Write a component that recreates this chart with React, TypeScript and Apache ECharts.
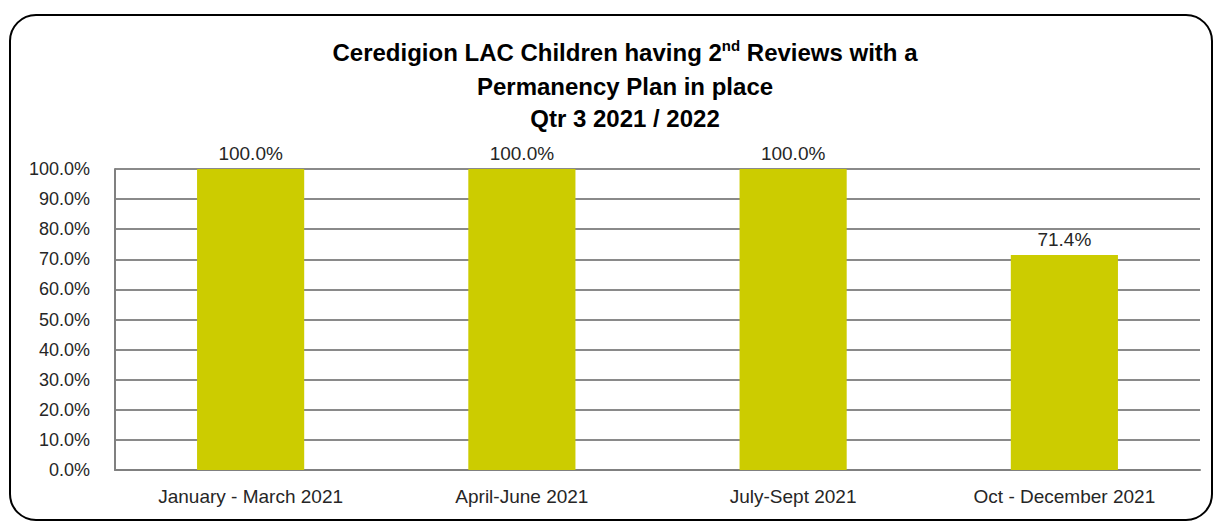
import React, { useEffect, useRef } from "react";
import * as echarts from "echarts";

const categories = ["January - March 2021", "April-June 2021", "July-Sept 2021", "Oct - December 2021"];
const values = [100.0, 100.0, 100.0, 71.4];
const titleLines = [
  "Ceredigion LAC Children having 2{sup|nd} Reviews with a",
  "Permanency Plan in place",
  "Qtr 3 2021 / 2022",
];

const FONT = "'Liberation Sans Narrow', 'Arial Narrow', 'Liberation Sans', Arial, sans-serif";

export default function App() {
  const ref = useRef<HTMLDivElement>(null);
  useEffect(() => {
    document.body.style.margin = "0";
    const chart = echarts.init(ref.current!, null, { renderer: "svg" });
    const titleYs = [52, 86, 118];
    chart.setOption({
      animation: false,
      backgroundColor: "#ffffff",
      textStyle: { fontFamily: FONT },
      graphic: [
        {
          type: "rect",
          shape: { x: 10, y: 15, width: 1202, height: 505, r: 26 },
          style: { fill: "none", stroke: "#000", lineWidth: 2 },
          silent: true,
        },
        ...titleLines.map((t, i) => ({
          type: "text",
          x: 625,
          y: titleYs[i],
          style: {
            text: t,
            fontFamily: FONT,
            fontWeight: "bold",
            fontSize: 24,
            fill: "#000",
            align: "center",
            verticalAlign: "middle",
            rich: {
              sup: { fontSize: 15, fontWeight: "bold", fontFamily: FONT, verticalAlign: "top", lineHeight: 28, padding: [0, 0, 8, 0] },
            },
          },
        })),
      ],
      grid: { left: 115, right: 21, top: 169, height: 301, containLabel: false },
      xAxis: {
        type: "category",
        data: categories,
        axisLine: { show: true, lineStyle: { color: "#808080", width: 2 } },
        axisTick: { show: false },
        axisLabel: { color: "#262626", fontSize: 19, fontFamily: FONT, margin: 17, interval: 0 },
      },
      yAxis: {
        type: "value",
        min: 0,
        max: 100,
        interval: 10,
        axisLine: { show: true, lineStyle: { color: "#808080", width: 2 } },
        axisTick: { show: false },
        axisLabel: {
          color: "#262626",
          fontSize: 18,
          fontFamily: FONT,
          margin: 25,
          formatter: (v: number) => v.toFixed(1) + "%",
        },
        splitLine: { show: true, lineStyle: { color: "#8a8a8a", width: 2 } },
      },
      series: [
        {
          type: "bar",
          data: values,
          barWidth: "39.5%",
          itemStyle: { color: "#cccc00" },
          label: {
            show: true,
            position: "top",
            distance: 6,
            color: "#262626",
            fontSize: 19,
            fontFamily: FONT,
            formatter: (p: any) => p.value.toFixed(1) + "%",
          },
        },
      ],
    });
    return () => chart.dispose();
  }, []);
  return <div ref={ref} style={{ width: 1221, height: 523 }} />;
}
